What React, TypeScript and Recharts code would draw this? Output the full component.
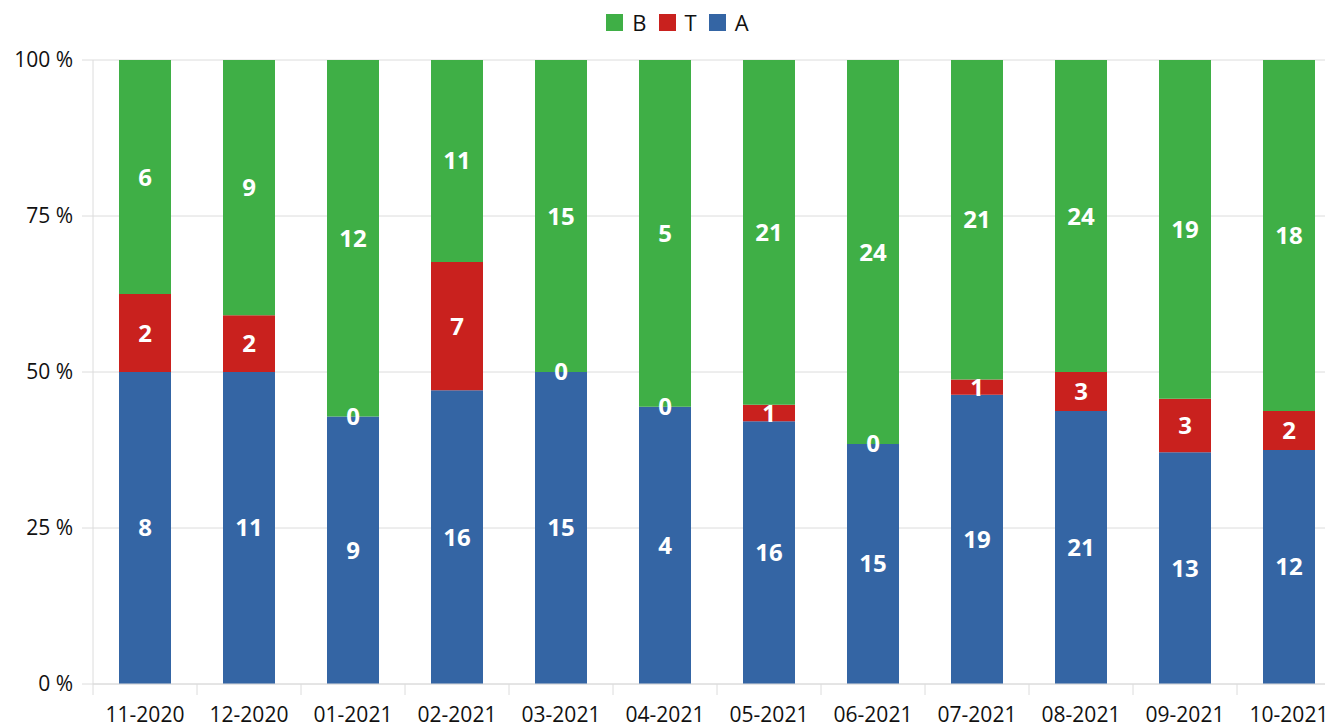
import { BarChart, Bar, XAxis, YAxis, CartesianGrid, Legend, LabelList } from 'recharts';

const months = ['11-2020', '12-2020', '01-2021', '02-2021', '03-2021', '04-2021', '05-2021', '06-2021', '07-2021', '08-2021', '09-2021', '10-2021'];
const countsA = [8, 11, 9, 16, 15, 4, 16, 15, 19, 21, 13, 12];
const countsT = [2, 2, 0, 7, 0, 0, 1, 0, 1, 3, 3, 2];
const countsB = [6, 9, 12, 11, 15, 5, 21, 24, 21, 24, 19, 18];
const yTicks = [0, 0.25, 0.5, 0.75, 1];

const seriesKeys = ['A', 'T', 'B'];
const seriesColors: Record<string, string> = { A: '#3465A4', T: '#C9211E', B: '#3FAF46' };
const legendOrder = ['B', 'T', 'A'];

const data = months.map((m, i) => ({ month: m, A: countsA[i], T: countsT[i], B: countsB[i] }));

const font = '"Open Sans", sans-serif';
const gridColor = '#dcdcdc';
const labelStyle = { fill: '#fff', fontSize: 24, fontWeight: 700, fontFamily: font };

function MonthTick(props: any) {
  const { x, y, payload } = props;
  const half = payload && payload.offset ? payload.offset : 52;
  return (
    <g>
      <line x1={x - half} x2={x - half} y1={y - 24} y2={y - 13} stroke={gridColor} />
      <text x={x} y={y - 1} dy="0.71em" textAnchor="middle" fill="#111" fontSize={21} fontFamily={font}>
        {payload.value}
      </text>
    </g>
  );
}

// label for the A segment; also writes the "0" of an empty T segment on top of A
function ALabel(props: any) {
  const { x, y, width, height, value, index } = props;
  const cx = x + width / 2;
  return (
    <g>
      <text x={cx} y={y + height / 2} dy="0.35em" textAnchor="middle" {...labelStyle}>{value}</text>
      {countsT[index] === 0 && (
        <text x={cx} y={y} dy="0.35em" textAnchor="middle" {...labelStyle}>0</text>
      )}
    </g>
  );
}

function TopLegend() {
  return (
    <div style={{ display: 'flex', justifyContent: 'center', alignItems: 'center', paddingLeft: 22, height: 32, fontFamily: font, fontSize: 22, color: '#111' }}>
      {legendOrder.map((k) => (
        <span key={k} style={{ display: 'inline-flex', alignItems: 'center', marginRight: 12 }}>
          <span style={{ display: 'inline-block', width: 17, height: 17, background: seriesColors[k], marginRight: 9 }} />
          {k}
        </span>
      ))}
    </div>
  );
}

export default function App() {
  return (
    <div style={{ margin: '-8px 0 0 -8px', width: 1345, height: 727 }}>
      <BarChart
        width={1345}
        height={727}
        data={data}
        stackOffset="expand"
        barCategoryGap="25%"
        margin={{ top: 28, right: 4, bottom: 0, left: 0 }}
      >
        <Legend verticalAlign="top" align="center" height={32} content={() => <TopLegend />} wrapperStyle={{ top: 6, left: 0, width: 1345 }} />
        <CartesianGrid vertical={false} stroke={gridColor} />
        <XAxis
          dataKey="month"
          height={43}
          tickLine={false}
          axisLine={{ stroke: gridColor }}
          tickSize={11}
          tickMargin={13}
          tick={<MonthTick />}
          interval={0}
        />
        <YAxis
          width={93}
          domain={[0, 1]}
          ticks={yTicks}
          tickFormatter={(v: number) => `${Math.round(v * 100)} %`}
          tickSize={11}
          tickMargin={9}
          tickLine={{ stroke: gridColor }}
          axisLine={{ stroke: gridColor }}
          tick={{ fontSize: 21, fill: '#111', fontFamily: font }}
        />
        {seriesKeys.map((k) => (
          <Bar key={k} dataKey={k} name={k} stackId="s" fill={seriesColors[k]} isAnimationActive={false}>
            {k === 'A' ? (
              <LabelList dataKey="A" content={<ALabel />} />
            ) : (
              <LabelList dataKey={k} position="center" {...labelStyle} />
            )}
          </Bar>
        ))}
      </BarChart>
    </div>
  );
}
